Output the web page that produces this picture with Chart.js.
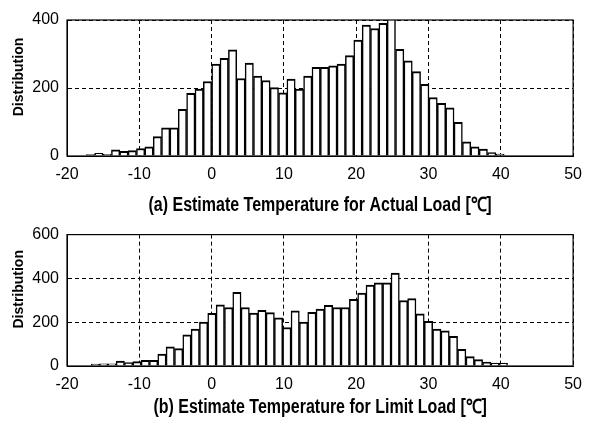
<!DOCTYPE html>
<html>
<head>
<meta charset="utf-8">
<script src="https://cdn.jsdelivr.net/npm/chart.js@4.4.0/dist/chart.umd.min.js"></script>
<style>
    html, body { margin: 0; padding: 0; background: #fff; }
    body { width: 591px; height: 421px; position: relative; overflow: hidden; }
    .box { position: absolute; left: 0; width: 591px; }
    #boxA { top: 0; height: 217px; }
    #boxB { top: 217px; height: 204px; }
</style>
</head>
<body>
<div class="box" id="boxA"><canvas id="chartA"></canvas></div>
<div class="box" id="boxB"><canvas id="chartB"></canvas></div>
<script>
// bin centres (deg C) and counts
const binsA = [-16.75, -15.60, -14.44, -13.28, -12.13, -10.97, -9.82, -8.66, -7.50, -6.35,
    -5.19, -4.04, -2.88, -1.72, -0.57, 0.59, 1.74, 2.90, 4.06, 5.21,
    6.37, 7.52, 8.68, 9.84, 10.99, 12.15, 13.30, 14.46, 15.62, 16.77,
    17.93, 19.08, 20.24, 21.40, 22.55, 23.71, 24.86, 26.02, 27.18, 28.33,
    29.49, 30.64, 31.80, 32.96, 34.11, 35.27, 36.42, 37.58, 38.74, 39.89];
const countsA = [4, 8, 5, 18, 14, 16, 22, 27, 57, 83,
    83, 137, 184, 197, 219, 270, 287, 312, 228, 273,
    235, 222, 201, 186, 226, 197, 235, 261, 261, 265,
    270, 295, 341, 385, 375, 390, 410, 314, 280, 248,
    211, 172, 155, 142, 99, 42, 27, 20, 10, 6];

const binsB = [-16.08, -14.93, -13.78, -12.63, -11.48, -10.32, -9.17, -8.02, -6.87, -5.72,
    -4.56, -3.41, -2.26, -1.11, 0.04, 1.20, 2.35, 3.50, 4.65, 5.80,
    6.96, 8.11, 9.26, 10.41, 11.56, 12.72, 13.87, 15.02, 16.17, 17.32,
    18.48, 19.63, 20.78, 21.93, 23.08, 24.24, 25.39, 26.54, 27.69, 28.84,
    30.00, 31.15, 32.30, 33.45, 34.60, 35.76, 36.91, 38.06, 39.21, 40.36];
const countsB = [9, 10, 10, 22, 16, 20, 26, 26, 54, 87,
    79, 142, 169, 201, 241, 279, 267, 336, 267, 242,
    254, 244, 220, 176, 252, 201, 245, 260, 277, 267,
    267, 304, 333, 370, 380, 380, 424, 299, 308, 238,
    204, 169, 161, 135, 76, 43, 29, 18, 13, 13];

const xTicks = [-20, -10, 0, 10, 20, 30, 40, 50];
const yTicksA = [0, 200, 400];
const yTicksB = [0, 200, 400, 600];

const sans = "'Liberation Sans', Arial, sans-serif";

// frame round the plot area, rotated y label and a narrow bold x title
const framePlugin = {
    id: 'frame',
    afterDraw(chart, args, opts) {
        const { ctx, chartArea: a } = chart;
        ctx.save();
        ctx.strokeStyle = '#000';
        ctx.lineWidth = 1.2;
        ctx.strokeRect(a.left, a.top, a.right - a.left, a.bottom - a.top);
        ctx.fillStyle = '#000';
        ctx.textAlign = 'center';
        ctx.textBaseline = 'middle';

        ctx.save();
        ctx.translate(19, (a.top + a.bottom) / 2 - 11);
        ctx.rotate(-Math.PI / 2);
        ctx.font = 'bold 14px ' + sans;
        ctx.fillText('Distribution', 0, 0);
        ctx.restore();

        // squeeze horizontally to look like Arial Narrow Bold
        ctx.translate((a.left + a.right) / 2, opts.titleY);
        ctx.scale(0.82, 1);
        ctx.font = 'bold 19.5px ' + sans;
        ctx.fillText(opts.title, 0, 0);
        ctx.restore();
    }
};

function makeHist(canvasId, bins, counts, yTicks, title, titleY, xHeight, padTop) {
    const yMax = yTicks[yTicks.length - 1];
    new Chart(document.getElementById(canvasId), {
        type: 'bar',
        data: {
            datasets: [{
                data: bins.map((b, i) => ({ x: b, y: counts[i] })),
                backgroundColor: '#fff',
                borderColor: '#000',
                borderWidth: { top: 2, left: 1.5, right: 1.5, bottom: 0 },
                borderSkipped: 'start',
                barPercentage: 1,
                categoryPercentage: 1,
                clip: 0
            }]
        },
        options: {
            responsive: true,
            maintainAspectRatio: false,
            animation: false,
            layout: { padding: { top: padTop, right: 7, left: 0, bottom: 0 } },
            plugins: {
                legend: { display: false },
                tooltip: { enabled: false },
                frame: { title: title, titleY: titleY }
            },
            scales: {
                x: {
                    type: 'linear',
                    min: xTicks[0],
                    max: xTicks[xTicks.length - 1],
                    offset: false,
                    afterBuildTicks: s => { s.ticks = xTicks.map(v => ({ value: v })); },
                    afterFit: s => { s.height = xHeight; },
                    grid: { color: '#000', lineWidth: 1, drawTicks: false, offset: false },
                    border: { display: true, color: '#000', width: 1, dash: [4, 3] },
                    ticks: { color: '#000', padding: 9, maxRotation: 0, font: { family: sans, size: 16 } }
                },
                y: {
                    min: 0,
                    max: yMax,
                    afterBuildTicks: s => { s.ticks = yTicks.map(v => ({ value: v })); },
                    afterFit: s => { s.width = 67; },
                    grid: { color: '#000', lineWidth: 1, drawTicks: false },
                    border: { display: true, color: '#000', width: 1, dash: [4, 3] },
                    ticks: { color: '#000', padding: 8, font: { family: sans, size: 16 } }
                }
            }
        },
        plugins: [framePlugin]
    });
}

makeHist('chartA', binsA, countsA, yTicksA, '(a) Estimate Temperature for Actual Load [℃]', 206, 61, 20);
makeHist('chartB', binsB, countsB, yTicksB, '(b) Estimate Temperature for Limit Load [℃]', 191, 55, 12);
</script>
</body>
</html>
